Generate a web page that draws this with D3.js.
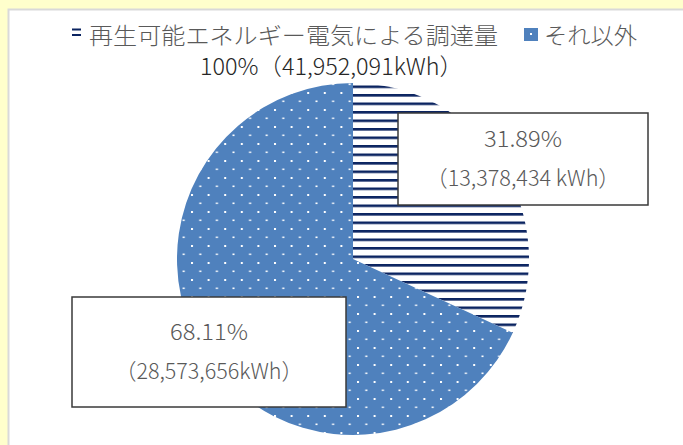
<!DOCTYPE html>
<html>
<head>
<meta charset="utf-8">
<script src="https://cdn.jsdelivr.net/npm/d3@7"></script>
<style>
  html, body { margin: 0; padding: 0; background: #FFFFCC; }
  svg { display: block; }
  text { font-family: "Noto Sans CJK JP", "Noto Sans", sans-serif; font-weight: 300; }
</style>
</head>
<body>
<div id="chart"></div>
<script>
// data
var categories = ["再生可能エネルギー電気による調達量", "それ以外"];
var values = [13378434, 28573656];
var percentLabels = ["31.89%", "68.11%"];
var kwhLabels = ["（13,378,434 kWh）", "（28,573,656kWh）"];
var totalLabel = "100%（41,952,091kWh）";

var W = 683, H = 445;
var cx = 353, cy = 259, radius = 176;

var svg = d3.select("#chart")
  .append("svg")
  .attr("width", W)
  .attr("height", H);

var defs = svg.append("defs");

// horizontal lines pattern for renewable
var hp = defs.append("pattern")
  .attr("id", "hlines")
  .attr("patternUnits", "userSpaceOnUse")
  .attr("width", 10)
  .attr("height", 8.5)
  .attr("y", cy + 1);
hp.append("rect").attr("width", 10).attr("height", 8.5).attr("fill", "#ffffff");
hp.append("rect").attr("y", 0).attr("width", 10).attr("height", 2.6).attr("fill", "#0B2461");

// dotted pattern for the rest
var dp = defs.append("pattern")
  .attr("id", "dots")
  .attr("patternUnits", "userSpaceOnUse")
  .attr("width", 16.6)
  .attr("height", 17)
  .attr("x", 4)
  .attr("y", 3);
dp.append("rect").attr("width", 16.6).attr("height", 17).attr("fill", "#4F81BD");
dp.append("rect").attr("x", 0).attr("y", 0).attr("width", 2).attr("height", 2).attr("fill", "#ffffff");
dp.append("rect").attr("x", 8.3).attr("y", 8.5).attr("width", 2).attr("height", 1.6).attr("fill", "#ffffff");

var fills = ["url(#hlines)", "url(#dots)"];

// chart area
svg.append("rect")
  .attr("x", 8.5)
  .attr("y", 9.5)
  .attr("width", W)
  .attr("height", H)
  .attr("fill", "#ffffff")
  .attr("stroke", "#D9D9D9")
  .attr("stroke-width", 2);

// legend
var legend = svg.append("g");
legend.append("rect").attr("x", 72).attr("y", 28.5).attr("width", 9).attr("height", 2).attr("fill", "#0B2461");
legend.append("rect").attr("x", 72).attr("y", 34).attr("width", 9).attr("height", 2).attr("fill", "#0B2461");
legend.append("text")
  .attr("x", 89)
  .attr("y", 44)
  .attr("font-size", 23)
  .attr("fill", "#595959")
  .attr("textLength", 409)
  .attr("lengthAdjust", "spacingAndGlyphs")
  .text(categories[0]);
legend.append("rect").attr("x", 524).attr("y", 28).attr("width", 14).attr("height", 13).attr("fill", "#4F81BD");
legend.append("rect").attr("x", 530).attr("y", 33).attr("width", 2).attr("height", 2).attr("fill", "#ffffff");
legend.append("text")
  .attr("x", 544)
  .attr("y", 44)
  .attr("font-size", 23)
  .attr("fill", "#595959")
  .attr("textLength", 93)
  .attr("lengthAdjust", "spacingAndGlyphs")
  .text(categories[1]);

// total label
svg.append("text")
  .attr("x", 200)
  .attr("y", 75)
  .attr("font-size", 23)
  .attr("fill", "#262626")
  .attr("textLength", 263)
  .attr("lengthAdjust", "spacingAndGlyphs")
  .text(totalLabel);

// pie
var pie = d3.pie().sort(null).value(function (d) { return d; });
var arc = d3.arc().innerRadius(0).outerRadius(radius);

var g = svg.append("g")
  .attr("transform", "translate(" + cx + "," + cy + ")");

g.selectAll("path")
  .data(pie(values))
  .enter()
  .append("path")
  .attr("d", arc)
  .attr("fill", function (d, i) { return fills[i]; });

// data label boxes
var labelBoxes = [
  { x: 398, y: 113, w: 250, h: 92, pw: 78, kw: 194 },
  { x: 72, y: 297, w: 274, h: 110, pw: 78, kw: 188 }
];

var lb = svg.selectAll(".lbl")
  .data(labelBoxes)
  .enter()
  .append("g")
  .attr("class", "lbl");

lb.append("rect")
  .attr("x", function (d) { return d.x; })
  .attr("y", function (d) { return d.y; })
  .attr("width", function (d) { return d.w; })
  .attr("height", function (d) { return d.h; })
  .attr("fill", "#ffffff")
  .attr("stroke", "#3a3a3a")
  .attr("stroke-width", 1.5);

lb.append("text")
  .attr("x", function (d) { return d.x + d.w / 2 - d.pw / 2; })
  .attr("y", function (d) { return d.y + d.h / 2 - 12.5; })
  .attr("font-size", 22)
  .attr("fill", "#595959")
  .attr("textLength", function (d) { return d.pw; })
  .attr("lengthAdjust", "spacingAndGlyphs")
  .text(function (d, i) { return percentLabels[i]; });

lb.append("text")
  .attr("x", function (d) { return d.x + d.w / 2 - d.kw / 2; })
  .attr("y", function (d) { return d.y + d.h / 2 + 26.5; })
  .attr("font-size", 22)
  .attr("fill", "#595959")
  .attr("textLength", function (d) { return d.kw; })
  .attr("lengthAdjust", "spacingAndGlyphs")
  .text(function (d, i) { return kwhLabels[i]; });
</script>
</body>
</html>
